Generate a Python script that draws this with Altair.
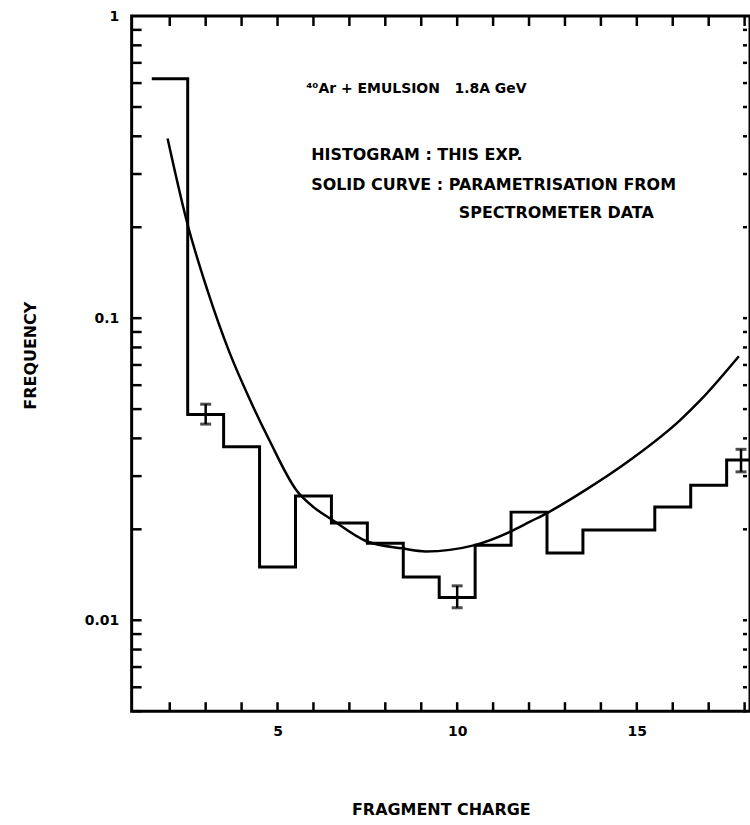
import altair as alt
import pandas as pd

# ---- data ----
hist_z = list(range(2, 19))
hist_freq = [0.62, 0.048, 0.0375, 0.0150, 0.0258, 0.0210, 0.0180, 0.0139, 0.0119,
             0.0177, 0.0228, 0.0167, 0.0199, 0.0199, 0.0237, 0.0280, 0.0339]

err_z = [3.0, 10.0, 17.9]
err_lo = [0.0446, 0.0110, 0.0310]
err_hi = [0.0519, 0.0130, 0.0368]

curve_z = [1.94, 2.49, 3.05, 3.66, 4.21, 4.77, 5.52, 6.02, 6.52, 7.46, 8.46, 9.13,
           10.46, 11.5, 12.03, 12.49, 13.4, 14.9, 16.2, 16.77, 17.84]
curve_f = [0.393, 0.2057, 0.1236, 0.0772, 0.0544, 0.0395, 0.0270, 0.0236, 0.0215,
           0.0183, 0.0173, 0.0169, 0.0177, 0.0197, 0.0212, 0.0226, 0.0262, 0.0345,
           0.0459, 0.0535, 0.0748]

x_tick_labels = [5, 10, 15]
y_tick_labels = [1, 0.1, 0.01]
x_minor = list(range(2, 19))
y_minor = [m * 10.0 ** e for e in (-3, -2, -1) for m in range(1, 10) if 0.005 <= m * 10.0 ** e < 1]

notes = ["\u2074\u2070Ar + EMULSION\u00a0\u00a0 1.8A GeV",
         "HISTOGRAM : THIS EXP.",
         "SOLID CURVE : PARAMETRISATION FROM",
         "SPECTROMETER DATA"]

# ---- tables ----
edges = [z - 0.5 for z in hist_z] + [hist_z[-1] + 0.5]
step_df = pd.DataFrame({"z": edges, "freq": hist_freq + [hist_freq[-1]]})
err_df = pd.DataFrame({"z": err_z, "freq": err_lo, "hi": err_hi})
curve_df = pd.DataFrame({"z": curve_z, "freq": curve_f})
xt_df = pd.DataFrame({"z": x_minor})
yt_df = pd.DataFrame({"freq": y_minor})

W, H = 620, 697
FONT = "DejaVu Sans"

xs = alt.Scale(domain=[0.94, 18.15], nice=False, zero=False)
ys = alt.Scale(type="log", domain=[0.005, 1], nice=False)

xaxis = alt.Axis(values=x_tick_labels, title="FRAGMENT CHARGE", grid=False, domain=False,
                 ticks=False, labelPadding=13, titlePadding=64, labelFont=FONT,
                 labelFontWeight="bold", labelFontSize=14, titleFont=FONT,
                 titleFontWeight="bold", titleFontSize=16, labelColor="black",
                 titleColor="black")
yaxis = alt.Axis(values=y_tick_labels, format="~g", title="FREQUENCY", grid=False,
                 domain=False, ticks=False, labelPadding=13, titlePadding=46,
                 titleY=340,
                 labelFont=FONT, labelFontWeight="bold", labelFontSize=14,
                 titleFont=FONT, titleFontWeight="bold", titleFontSize=16,
                 labelColor="black", titleColor="black")


def X(f="z"):
    return alt.X(f"{f}:Q", scale=xs, axis=xaxis)


def Y(f="freq"):
    return alt.Y(f"{f}:Q", scale=ys, axis=yaxis)


hist = alt.Chart(step_df).mark_line(interpolate="step-after", color="black",
                                    strokeWidth=3, clip=True).encode(x=X(), y=Y())

curve = alt.Chart(curve_df).mark_line(interpolate="monotone", color="black",
                                      strokeWidth=2.5, clip=True).encode(x=X(), y=Y())

err_rule = alt.Chart(err_df).mark_rule(color="black", strokeWidth=2.5).encode(
    x=X(), y=Y(), y2=alt.Y2("hi:Q"))
err_lo_cap = alt.Chart(err_df).mark_tick(orient="horizontal", color="black", size=11,
                                         thickness=3).encode(x=X(), y=Y())
err_hi_cap = alt.Chart(err_df).mark_tick(orient="horizontal", color="black", size=11,
                                         thickness=3).encode(x=X(), y=Y("hi"))

left_ticks = alt.Chart(yt_df).mark_rule(color="black", strokeWidth=2.5).encode(
    y=Y(), x=alt.value(0), x2=alt.value(10))
right_ticks = alt.Chart(yt_df).mark_rule(color="black", strokeWidth=2.5).encode(
    y=Y(), x=alt.value(W - 7), x2=alt.value(W - 3))
bottom_ticks = alt.Chart(xt_df).mark_rule(color="black", strokeWidth=2.5).encode(
    x=X(), y=alt.value(H), y2=alt.value(H - 9))
top_ticks = alt.Chart(xt_df).mark_rule(color="black", strokeWidth=2.5).encode(
    x=X(), y=alt.value(0), y2=alt.value(10))

text_x = [175, 180, 180, 328]
text_y = [73, 139, 169, 197]
text_size = [14, 16, 16, 16]
texts = []
for t, tx, ty, ts in zip(notes, text_x, text_y, text_size):
    texts.append(
        alt.Chart(pd.DataFrame({"label": [t]})).mark_text(
            align="left", baseline="middle", font=FONT, fontWeight="bold",
            fontSize=ts, color="black").encode(
            x=alt.value(tx), y=alt.value(ty), text="label:N"))

chart = alt.layer(hist, curve, err_rule, err_lo_cap, err_hi_cap, left_ticks,
                  right_ticks, bottom_ticks, top_ticks, *texts).properties(
    width=W, height=H,
    autosize=alt.AutoSizeParams(type="none"),
    padding={"left": 132, "top": 15, "right": 0, "bottom": 113},
    background="white",
).configure_view(stroke="black", strokeWidth=3)

chart.save("out.html", embed_options={"renderer": "svg", "actions": False})
